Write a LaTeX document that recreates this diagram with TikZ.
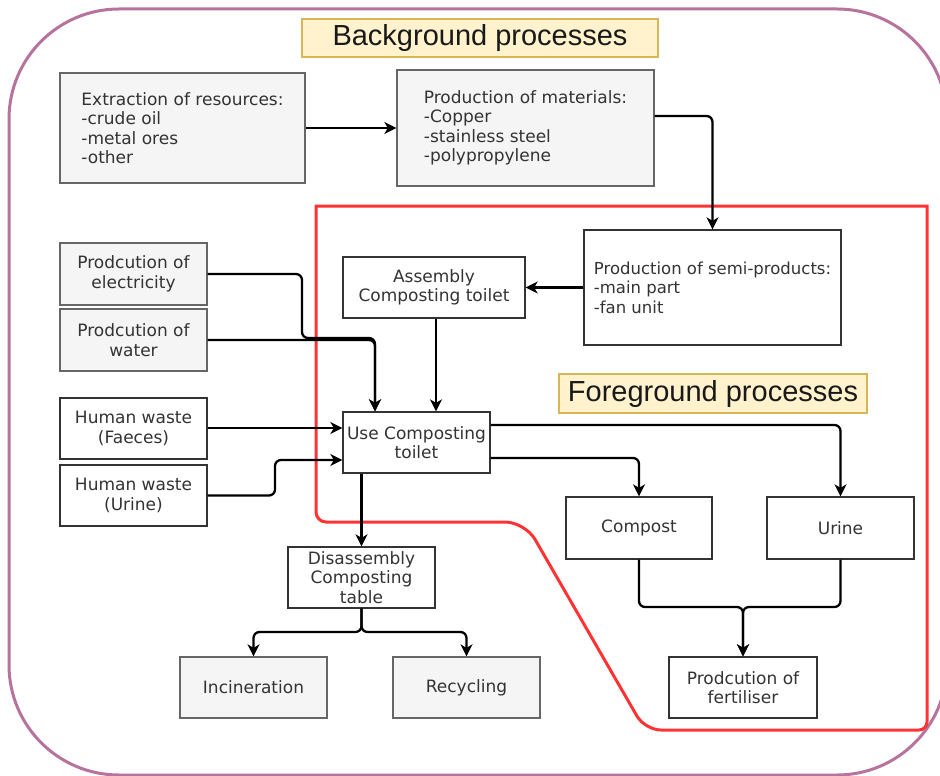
\documentclass[tikz,border=0pt]{standalone}
\usepackage{fontspec}
\setmainfont{DejaVu Sans}
\newfontfamily\titlefont{Liberation Sans}
\usetikzlibrary{arrows.meta}

\definecolor{outerline}{HTML}{B5739D}
\definecolor{fgline}{HTML}{FF3333}
\definecolor{titlefill}{HTML}{FFF2CC}
\definecolor{titleline}{HTML}{D6B656}
\definecolor{grayfill}{HTML}{F5F5F5}
\definecolor{grayline}{HTML}{666666}
\definecolor{boxline}{HTML}{333333}
\definecolor{boxtext}{HTML}{333333}

\tikzset{
  boxbase/.style={draw, line width=1.3pt, inner sep=0pt, text=boxtext,
    font=\fontsize{17}{19.5}\selectfont},
  graybox/.style={boxbase, draw=grayline, fill=grayfill},
  whitebox/.style={boxbase, draw=boxline, fill=white},
  titlebox/.style={draw=titleline, fill=titlefill, line width=1.2pt, inner sep=0pt,
    font=\titlefont\fontsize{29}{33}\selectfont, text=black!90},
  arr/.style={draw=black, line width=2.3pt, rounded corners=6pt,
    -{Stealth[length=12pt,width=12pt,inset=3.5pt]}},
  outline/.style={draw=outerline, line width=3pt, rounded corners=110pt},
  fgregion/.style={draw=fgline, line width=3pt},
}

\begin{document}
\begin{tikzpicture}[x=1pt,y=-1pt]
\useasboundingbox (0,0) rectangle (940,776);

% outer frame of the whole system
\begin{scope}
  \clip (0,0) rectangle (940,776);
  \draw[outline] (9,9) rectangle (947,775);
\end{scope}

% foreground region
\draw[fgregion] (316,206) -- (927,206) [rounded corners=8pt] -- (927,730)
  [rounded corners=16pt] -- (645,730)
  [rounded corners=20pt] -- (525,522) [rounded corners=10pt] -- (316,522) [sharp corners] -- cycle;

% titles
\node[titlebox, minimum width=356pt, minimum height=38pt] (bgt) at (480,38) {Background processes};
\node[titlebox, minimum width=308pt, minimum height=39pt] (fgt) at (713,393.5) {Foreground processes};

% background processes
\node[graybox, minimum width=245pt, minimum height=110pt, align=left] (ext) at (182.5,128)
  {Extraction of resources:\\-crude oil\\-metal ores\\-other};
\node[graybox, minimum width=257pt, minimum height=116pt, align=left] (mat) at (525.5,128)
  {Production of materials:\\-Copper\\-stainless steel\\-polypropylene};
\node[graybox, minimum width=147pt, minimum height=62pt, align=center] (elec) at (133.5,274)
  {Prodcution of\\electricity};
\node[graybox, minimum width=147pt, minimum height=62pt, align=center] (water) at (133.5,340)
  {Prodcution of\\water};
\node[whitebox, minimum width=147pt, minimum height=61pt, align=center] (faec) at (133.5,428.5)
  {Human waste\\(Faeces)};
\node[whitebox, minimum width=147pt, minimum height=61pt, align=center] (urin) at (133.5,495.5)
  {Human waste\\(Urine)};

% foreground processes
\node[whitebox, minimum width=257pt, minimum height=115pt, align=left,
  font=\fontsize{16.5}{19.5}\selectfont] (semi) at (712.5,287.5)
  {Production of semi-products:\\-main part\\-fan unit};
\node[whitebox, minimum width=182pt, minimum height=61pt, align=center] (asm) at (434,287.5)
  {Assembly\\Composting toilet};
\node[whitebox, minimum width=147pt, minimum height=61pt, align=center] (use) at (416.5,442.5)
  {Use Composting\\toilet};
\node[whitebox, minimum width=146pt, minimum height=62pt] (comp) at (639,528) {Compost};
\node[whitebox, minimum width=147pt, minimum height=62pt] (urine) at (840.5,528) {Urine};
\node[whitebox, minimum width=148pt, minimum height=61pt, align=center] (fert) at (743,687.5)
  {Prodcution of\\fertiliser};

% end of life
\node[whitebox, minimum width=147pt, minimum height=61pt, align=center] (dis) at (361.5,577.5)
  {Disassembly\\Composting\\table};
\node[graybox, minimum width=147pt, minimum height=61pt] (inc) at (253.5,687.5) {Incineration};
\node[graybox, minimum width=147pt, minimum height=61pt] (rec) at (466.5,687.5) {Recycling};

% supply chain connectors
\draw[arr] (ext) -- (mat);
\draw[arr] ([yshift=12pt]mat.east) -| (semi.north);
\draw[arr] (semi) -- (asm);
\draw[arr] ([xshift=2pt]asm.south) -- ([xshift=2pt]asm.south |- use.north);

% inputs to the use phase
\draw[arr] (elec.east) -- (302,274) -- (302,338) -- (375,338) -- (use.north -| 375,0);
\draw[arr] (water.east) -- (375,340) -- (use.north -| 375,0);
\draw[arr] (faec.east |- 428,428) -- (use.west |- 428,428);
\draw[arr] (urin.east) -- (275,495.5) -- (275,460) -- (use.west |- 460,460);

% outputs of the use phase
\draw[arr] (use.east |- 458,458) -| (comp.north);
\draw[arr] (use.east |- 425,425) -| (urine.north);
\draw[arr] (use.south -| dis.north) -- (dis.north);

% fertiliser production
\draw[arr] (comp.south) -- (639,607) -- (743,607) -- (fert.north);
\draw[arr] (urine.south) -- (840.5,607) -- (743,607) -- (fert.north);

% end of life split
\draw[arr] (dis.south) -- (361.5,632) -- (inc.north |- 632,632) -- (inc.north);
\draw[arr] (dis.south) -- (361.5,632) -- (rec.north |- 632,632) -- (rec.north);
\end{tikzpicture}
\end{document}
